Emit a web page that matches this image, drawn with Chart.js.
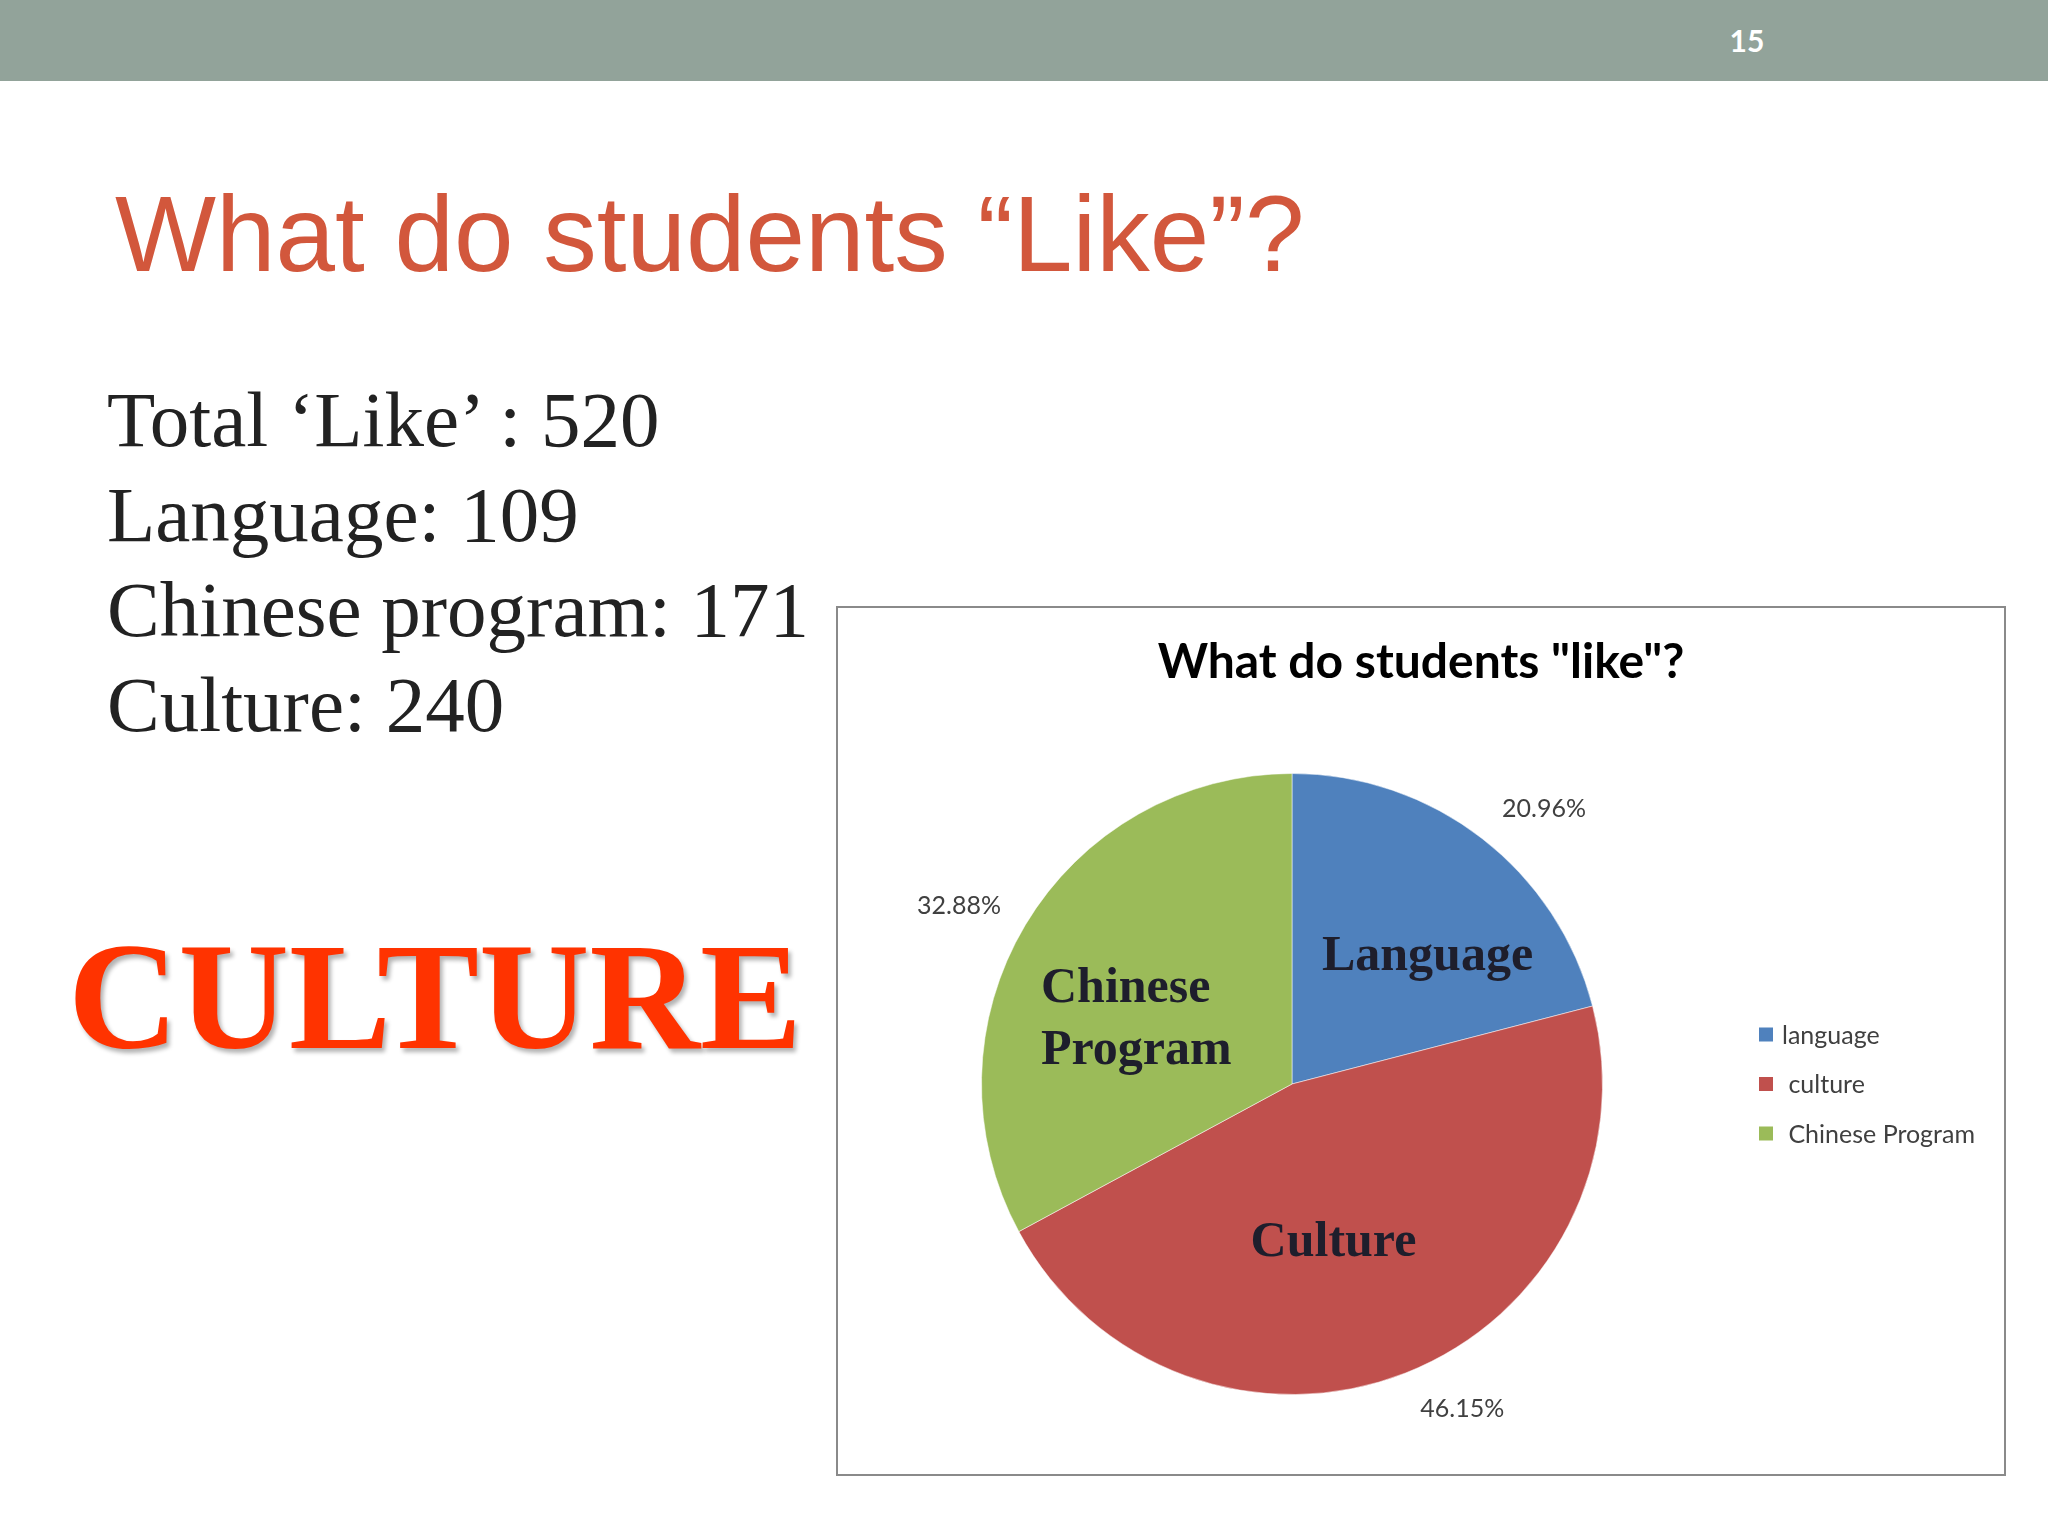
<!DOCTYPE html>
<html>
<head>
<meta charset="utf-8">
<script src="https://cdn.jsdelivr.net/npm/chart.js@4.4.1/dist/chart.umd.min.js"></script>
<style>
  html, body { margin: 0; padding: 0; background: #fff; }
  #slide { position: relative; width: 2048px; height: 1536px; overflow: hidden; background: #fff; }
  #topbar { position: absolute; left: 0; top: 0; width: 2048px; height: 81px; background: #92a39a; }
  #pagenum { position: absolute; left: 1707px; top: 22px; width: 80px; text-align: center;
             font: bold 30px Lato, sans-serif; color: #fff; }
  #title { position: absolute; left: 115px; top: 181px; white-space: nowrap;
           font: 107px/1 "Liberation Sans", Arial, sans-serif; color: #d2573c; }
  #summary { position: absolute; left: 107px; top: 372px; white-space: nowrap;
             font: 79px/95px "Liberation Serif", "Times New Roman", serif; color: #222; }
  #big { position: absolute; left: 68px; top: 920px; white-space: nowrap;
         font: bold 153px/1 "Liberation Serif", "Times New Roman", serif; color: #ff3300;
         text-shadow: 3px 4px 4px rgba(0,0,0,0.3); }
  #chartbox { position: absolute; left: 836px; top: 606px; width: 1170px; height: 870px;
              box-sizing: border-box; border: 2px solid #8a8a8a; background: #fff; }
  #chartbox canvas { display: block; }
</style>
</head>
<body>
<div id="slide">
  <div id="topbar"></div>
  <div id="pagenum">15</div>
  <div id="title">What do students “Like”?</div>
  <div id="summary">
    Total ‘Like’ : 520<br>
    Language: 109<br>
    Chinese program: 171<br>
    Culture: 240
  </div>
  <div id="big">CULTURE</div>
  <div id="chartbox"><canvas id="pie" width="1166" height="866"></canvas></div>
</div>

<script>
// data
const categories = ['language', ' culture', ' Chinese Program'];
const likes = [109, 240, 171];
const sliceNames = [['Language'], ['Culture'], ['Chinese', 'Program']];
const sliceColors = ['#4f81bd', '#c0504d', '#9bbb59'];
const chartTitle = 'What do students "like"?';

const total = likes.reduce((a, b) => a + b, 0);

// the slide's text boxes and Excel's best-fit labels sit a little off the slice middles (px)
const nameNudge = [[31, 8], [-21, 0], [-9, 24]];
const pctNudge = [[24, 20], [34, -22], [-13, 13]];

// percentages outside, names inside each slice
const sliceLabels = {
    id: 'sliceLabels',
    afterDatasetsDraw(chart) {
        const ctx = chart.ctx;
        const meta = chart.getDatasetMeta(0);
        meta.data.forEach((arc, i) => {
            const p = arc.getProps(['x', 'y', 'startAngle', 'endAngle', 'outerRadius'], true);
            const mid = (p.startAngle + p.endAngle) / 2;
            ctx.save();
            ctx.textBaseline = 'middle';

            // percentage
            const ro = p.outerRadius * 1.2;
            ctx.font = '25px Lato, sans-serif';
            ctx.fillStyle = '#404040';
            ctx.textAlign = 'center';
            const pct = (likes[i] / total * 100).toFixed(2) + '%';
            ctx.fillText(pct, p.x + Math.cos(mid) * ro + pctNudge[i][0],
                              p.y + Math.sin(mid) * ro + pctNudge[i][1]);

            // slice name
            const ri = p.outerRadius * 0.55;
            const cx = p.x + Math.cos(mid) * ri + nameNudge[i][0];
            const cy = p.y + Math.sin(mid) * ri + nameNudge[i][1];
            const lines = sliceNames[i];
            const lineH = 62;
            ctx.font = 'bold 50px "Liberation Serif", serif';
            ctx.fillStyle = '#1e1e2c';
            ctx.textAlign = 'left';
            const w = Math.max(...lines.map(t => ctx.measureText(t).width));
            lines.forEach((t, k) => {
                ctx.fillText(t, cx - w / 2, cy + (k - (lines.length - 1) / 2) * lineH);
            });
            ctx.restore();
        });
    }
};

// title centred on the whole chart box, legend to the right of the pie
const boxDecor = {
    id: 'boxDecor',
    afterDraw(chart) {
        const { ctx, chartArea } = chart;
        const ds = chart.data.datasets[0];
        ctx.save();
        ctx.font = 'bold 48px Lato, sans-serif';
        ctx.fillStyle = '#000';
        ctx.textAlign = 'center';
        ctx.textBaseline = 'middle';
        ctx.fillText(chartTitle, chart.width / 2, 55);

        const cy = (chartArea.top + chartArea.bottom) / 2;
        ctx.font = '25px Lato, sans-serif';
        ctx.textAlign = 'left';
        chart.data.labels.forEach((lab, i) => {
            const y = cy + (i - 1) * 49.5;
            ctx.fillStyle = ds.backgroundColor[i];
            ctx.fillRect(chartArea.right + 156, y - 7, 14, 14);
            ctx.fillStyle = '#404040';
            ctx.fillText(lab, chartArea.right + 179, y + 1);
        });
        ctx.restore();
    }
};

new Chart(document.getElementById('pie'), {
    type: 'pie',
    data: {
        labels: categories,
        datasets: [{
            data: likes,
            backgroundColor: sliceColors,
            borderColor: 'rgba(255,255,255,0.5)',
            borderWidth: 1
        }]
    },
    options: {
        responsive: false,
        animation: false,
        events: [],
        layout: { padding: { left: 143, right: 401, top: 165, bottom: 79 } },
        plugins: {
            legend: { display: false },
            tooltip: { enabled: false },
            title: { display: false }
        }
    },
    plugins: [sliceLabels, boxDecor]
});
</script>
</body>
</html>
